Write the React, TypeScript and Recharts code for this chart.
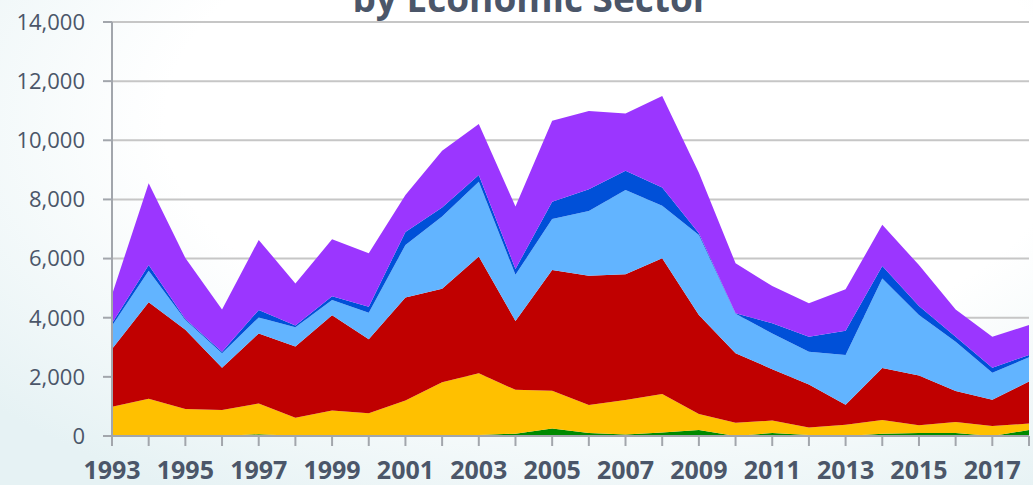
import { AreaChart, Area, XAxis, YAxis, CartesianGrid } from "recharts";

const years = [
  "1993", "1994", "1995", "1996", "1997", "1998", "1999", "2000", "2001", "2002", "2003", "2004", "2005",
  "2006", "2007", "2008", "2009", "2010", "2011", "2012", "2013", "2014", "2015", "2016", "2017", "2018",
];

// stacked bottom -> top
const green = [0, 0, 0, 0, 60, 10, 10, 10, 20, 20, 30, 80, 250, 100, 50, 120, 200, 0, 100, 30, 0, 80, 100, 100, 0, 200];
const yellow = [990, 1260, 910, 880, 1040, 610, 850, 760, 1180, 1800, 2090, 1480, 1280, 950, 1170, 1300, 540, 450, 420, 260, 380, 460, 260, 370, 340, 220];
const red = [1950, 3260, 2680, 1430, 2370, 2410, 3220, 2500, 3480, 3160, 3950, 2330, 4080, 4370, 4250, 4590, 3350, 2350, 1740, 1450, 680, 1760, 1690, 1050, 890, 1420];
const lightBlue = [790, 1070, 330, 490, 540, 650, 520, 900, 1780, 2440, 2530, 1560, 1730, 2190, 2850, 1780, 2710, 1330, 1210, 1110, 1680, 3030, 2040, 1670, 910, 820];
const darkBlue = [80, 190, 40, 50, 250, 60, 130, 200, 440, 310, 230, 200, 580, 730, 650, 610, 60, 20, 340, 510, 820, 420, 310, 170, 170, 80];
const purple = [970, 2770, 2060, 1430, 2370, 1420, 1920, 1810, 1250, 1920, 1720, 2110, 2740, 2650, 1940, 3100, 2040, 1690, 1260, 1130, 1400, 1390, 1380, 920, 1050, 1010];

const yTicks = [0, 2000, 4000, 6000, 8000, 10000, 12000, 14000];

const data = years.map((year, i) => ({
  year,
  green: green[i],
  yellow: yellow[i],
  red: red[i],
  lightBlue: lightBlue[i],
  darkBlue: darkBlue[i],
  purple: purple[i],
}));

const series = [
  { key: "green", color: "#008a00" },
  { key: "yellow", color: "#ffc000" },
  { key: "red", color: "#c00000" },
  { key: "lightBlue", color: "#62b4ff" },
  { key: "darkBlue", color: "#0050d8" },
  { key: "purple", color: "#9b36ff" },
];

const labelColor = "#4b5669";
const axisColor = "#a2a6ac";

export default function App() {
  return (
    <div
      style={{
        position: "absolute",
        left: 0,
        top: 0,
        width: 1033,
        height: 485,
        overflow: "hidden",
        background: "radial-gradient(ellipse 80% 90% at 60% 25%, #ffffff 55%, #e6f2f4 100%)",
        fontFamily: "'Open Sans', sans-serif",
      }}
    >
      <AreaChart width={1033} height={485} data={data} margin={{ top: 22, right: 4, bottom: 0, left: 0 }}>
        <CartesianGrid vertical={false} stroke="#c6c6c6" strokeWidth={2} />
        <XAxis
          dataKey="year"
          interval={0}
          height={49}
          tickSize={10}
          tickMargin={15}
          stroke={axisColor}
          strokeWidth={2}
          tickFormatter={(v: string, i: number) => (i % 2 === 0 ? v : "")}
          tick={{ fill: labelColor, fontSize: 25, fontWeight: 700, fontFamily: "'Open Sans', sans-serif" }}
        />
        <YAxis
          width={112}
          domain={[0, 14000]}
          ticks={yTicks}
          tickSize={9}
          tickMargin={18}
          stroke={axisColor}
          strokeWidth={2}
          tickFormatter={(v: number) => v.toLocaleString("en-US")}
          tick={{ fill: labelColor, fontSize: 22, fontFamily: "'Open Sans', sans-serif" }}
        />
        {series.map((s) => (
          <Area
            key={s.key}
            type="linear"
            dataKey={s.key}
            stackId="1"
            stroke="none"
            fill={s.color}
            fillOpacity={1}
            isAnimationActive={false}
          />
        ))}
      </AreaChart>
      <svg width={1033} height={485} style={{ position: "absolute", left: 0, top: 0, pointerEvents: "none" }}>
        <text
          x={531}
          y={12}
          textAnchor="middle"
          fill={labelColor}
          fontSize={37}
          fontWeight={700}
          fontFamily="'Open Sans', sans-serif"
        >
          by Economic Sector
        </text>
      </svg>
    </div>
  );
}
